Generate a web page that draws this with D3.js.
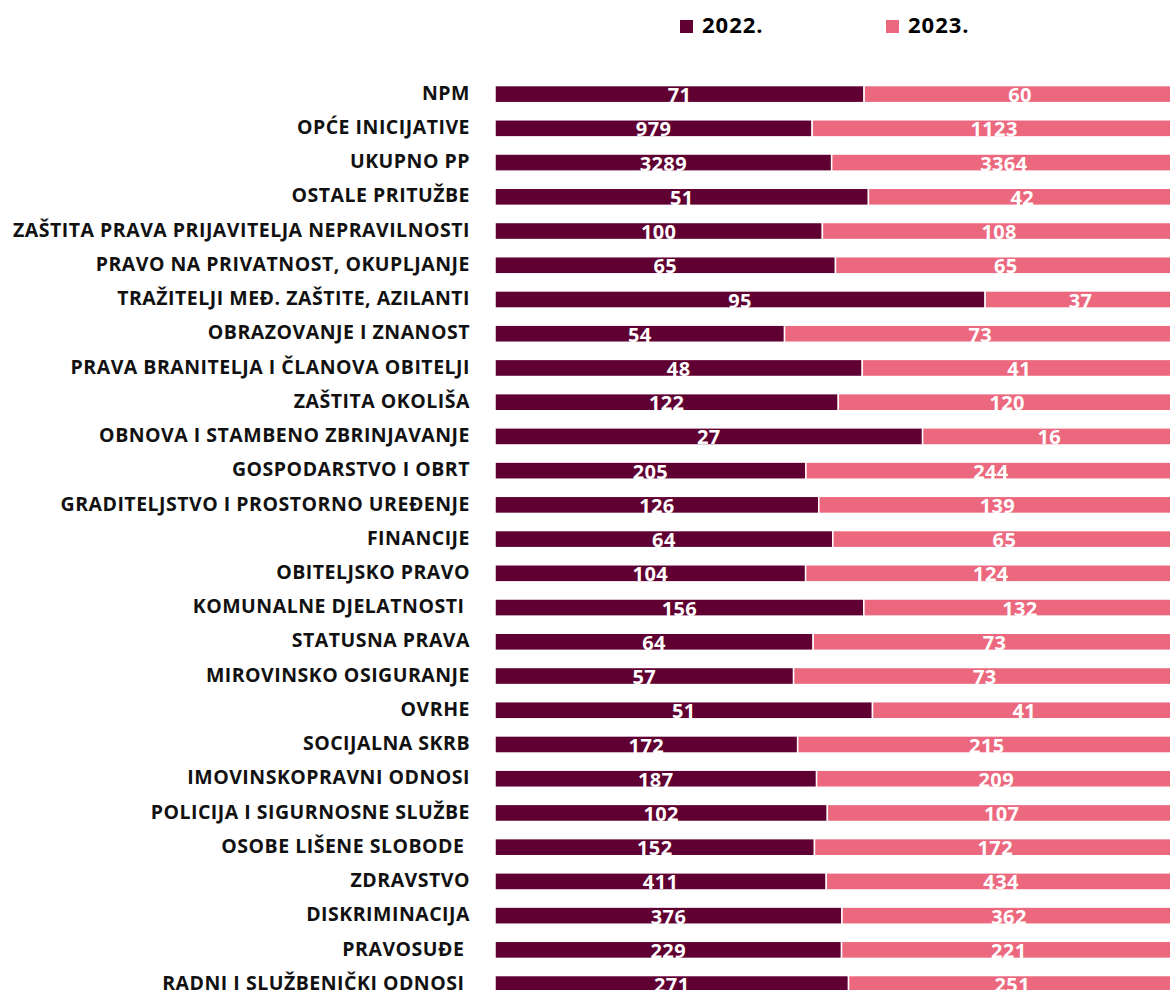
<!DOCTYPE html>
<html>
<head>
<meta charset="utf-8">
<script src="https://cdn.jsdelivr.net/npm/d3@7"></script>
<style>
  body { margin: 0; background: #fff; }
  text { font-family: "Open Sans", sans-serif; font-weight: bold; white-space: pre; }
</style>
</head>
<body>
<div id="container"></div>
<script>
/* CONSTANTS AND GLOBALS */
const width = 1170,
      height = 990,
      margin = {top: 77, left: 495, rightEnd: 1176}

const categories = [
  "NPM", "OPĆE INICIJATIVE", "UKUPNO PP", "OSTALE PRITUŽBE",
  "ZAŠTITA PRAVA PRIJAVITELJA NEPRAVILNOSTI", "PRAVO NA PRIVATNOST, OKUPLJANJE",
  "TRAŽITELJI MEĐ. ZAŠTITE, AZILANTI", "OBRAZOVANJE I ZNANOST",
  "PRAVA BRANITELJA I ČLANOVA OBITELJI", "ZAŠTITA OKOLIŠA",
  "OBNOVA I STAMBENO ZBRINJAVANJE", "GOSPODARSTVO I OBRT",
  "GRADITELJSTVO I PROSTORNO UREĐENJE", "FINANCIJE", "OBITELJSKO PRAVO",
  "KOMUNALNE DJELATNOSTI ", "STATUSNA PRAVA", "MIROVINSKO OSIGURANJE", "OVRHE",
  "SOCIJALNA SKRB", "IMOVINSKOPRAVNI ODNOSI", "POLICIJA I SIGURNOSNE SLUŽBE",
  "OSOBE LIŠENE SLOBODE ", "ZDRAVSTVO", "DISKRIMINACIJA", "PRAVOSUĐE ",
  "RADNI I SLUŽBENIČKI ODNOSI "
]
const values2022 = [71, 979, 3289, 51, 100, 65, 95, 54, 48, 122, 27, 205, 126, 64, 104,
                    156, 64, 57, 51, 172, 187, 102, 152, 411, 376, 229, 271]
const values2023 = [60, 1123, 3364, 42, 108, 65, 37, 73, 41, 120, 16, 244, 139, 65, 124,
                    132, 73, 73, 41, 215, 209, 107, 172, 434, 362, 221, 251]
const seriesNames = ["2022.", "2023."]
const colors = ["#600032", "#ec687e"]

const rows = categories.map((c, i) => ({cat: c, "2022.": values2022[i], "2023.": values2023[i]}))

const stacked = d3.stack()
  .keys(seriesNames)
  .offset(d3.stackOffsetExpand)(rows)

// SCALES
const xScale = d3.scaleLinear().domain([0, 1]).range([margin.left, margin.rightEnd])
const yScale = d3.scaleBand()
  .domain(categories)
  .range([margin.top, margin.top + categories.length * 34.23])
  .paddingInner(0.5).paddingOuter(0.25)

const color = d3.scaleOrdinal().domain(seriesNames).range(colors)

const svg = d3.select("#container").append("svg")
  .attr("width", width).attr("height", height)

// LEGEND
const legend = svg.append("g").selectAll("g")
  .data(seriesNames).join("g")
  .attr("transform", (d, i) => `translate(${680 + i * 206}, 20)`)
legend.append("rect").attr("width", 13).attr("height", 13).attr("fill", d => color(d))
legend.append("text").attr("x", 22).attr("y", 13)
  .style("font-size", "22px").style("letter-spacing", "1px")
  .attr("fill", "#000").text(d => d)

// CATEGORY AXIS
const yAxis = d3.axisLeft(yScale).tickSize(0).tickPadding(0)
svg.append("g")
  .attr("transform", `translate(470, 0)`)
  .call(yAxis)
  .call(g => g.select(".domain").remove())
  .selectAll("text")
  .style("font-size", "19.5px")
  .style("letter-spacing", "0.5px")
  .attr("fill", "#111")
  .attr("dy", "0.29em")

// BARS
const layers = svg.selectAll("g.layer").data(stacked).join("g")
  .attr("class", "layer").attr("fill", d => color(d.key))

layers.selectAll("rect").data(d => d).join("rect")
  .attr("x", d => xScale(d[0]))
  .attr("y", d => yScale(d.data.cat))
  .attr("width", d => xScale(d[1]) - xScale(d[0]))
  .attr("height", yScale.bandwidth())
  .attr("stroke", "#fff").attr("stroke-width", 1.5)

// VALUE LABELS
layers.selectAll("text").data(d => d.map(v => ({v, key: d.key}))).join("text")
  .attr("x", d => (xScale(d.v[0]) + xScale(d.v[1])) / 2)
  .attr("y", d => yScale(d.v.data.cat) + yScale.bandwidth() - 0.5)
  .attr("text-anchor", "middle")
  .attr("fill", "#fff")
  .style("font-size", "20px")
  .style("letter-spacing", "0.4px")
  .text(d => d.v.data[d.key])
</script>
</body>
</html>
